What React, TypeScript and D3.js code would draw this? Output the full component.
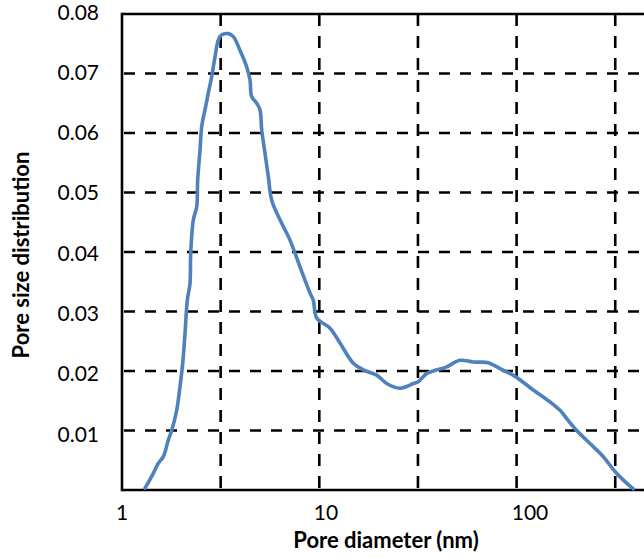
import React from "react";
import * as d3 from "d3";

// Pore diameter (nm) and pore size distribution values
const diameters = [
  1.308, 1.441, 1.528, 1.62, 1.717, 1.786, 1.894, 1.968, 2.031, 2.086, 2.143, 2.211, 2.23,
  2.298, 2.391, 2.419, 2.485, 2.535, 2.634, 2.737, 2.849, 2.961, 3.077, 3.202, 3.458, 3.666,
  3.963, 4.285, 4.454, 4.543, 4.816, 5.005, 5.106, 5.306, 5.515, 5.738, 6.322, 7.104, 7.984,
  8.975, 9.32, 9.7, 11.33, 12.73, 14.87, 16.71, 19.54, 21.96, 25.64, 27.73, 29.95, 31.76,
  35.03, 37.83, 44.23, 51.67, 60.33, 71.9, 82.4, 98.14, 121.5, 147.7, 166, 179.5, 201.7,
  235.5, 275, 315.3, 354.3, 390.5,
];
const psd = [
  0.0003, 0.0028, 0.0045, 0.0056, 0.0084, 0.01, 0.0134, 0.0174, 0.0213, 0.0263, 0.0319, 0.0347,
  0.0398, 0.0454, 0.0476, 0.0521, 0.0571, 0.0611, 0.0639, 0.0667, 0.0695, 0.0728, 0.0756, 0.0765,
  0.0767, 0.0762, 0.0739, 0.0711, 0.0689, 0.0661, 0.065, 0.0639, 0.0605, 0.0566, 0.0527, 0.0487,
  0.0454, 0.042, 0.0375, 0.0331, 0.0319, 0.0289, 0.0272, 0.0247, 0.0213, 0.0202, 0.0193, 0.0179,
  0.0171, 0.0174, 0.0179, 0.0182, 0.0196, 0.02, 0.0207, 0.0218, 0.0215, 0.0214, 0.0204, 0.0191,
  0.0168, 0.0148, 0.0134, 0.012, 0.01, 0.0078, 0.0056, 0.0031, 0.0014, 0.0002,
];

const xTickLabels = [1, 10, 100];
const xGridValues = [3.162, 10, 31.62, 100, 316.2];
const yTickValues = [0.01, 0.02, 0.03, 0.04, 0.05, 0.06, 0.07, 0.08];
const xTitle = "Pore diameter (nm)";
const yTitle = "Pore size distribution";

const W = 644;
const H = 558;
const FONT = "Lato, 'Open Sans', sans-serif";

export default function App() {
  const left = 122;
  const top = 14;
  const bottom = 490;
  const x = d3.scaleLog().domain([1, 1000]).range([left, left + 3 * 197.3]);
  const y = d3.scaleLinear().domain([0, 0.08]).range([bottom, top]);
  const xLab = d3.scaleLog().domain([1, 100]).range([122, 530]);
  const yLab = d3.scaleLinear().domain([0, 0.08]).range([494.5, 12]);

  const pts: [number, number][] = diameters.map((d, i) => [d, psd[i]]);
  const line = d3
    .line<[number, number]>()
    .x((d) => x(d[0]))
    .y((d) => y(d[1]))
    .curve(d3.curveCatmullRom.alpha(0.5));

  return (
    <svg
      width={W}
      height={H}
      style={{ position: "absolute", left: 0, top: 0, background: "#fff" }}
    >
      <rect x={0} y={0} width={W} height={H} fill="#fff" />
      {/* horizontal gridlines */}
      {yTickValues.slice(0, 7).map((v) => (
        <line
          key={"h" + v}
          x1={left}
          x2={W}
          y1={y(v)}
          y2={y(v)}
          stroke="#000"
          strokeWidth={2.6}
          strokeDasharray="11,10"
          strokeDashoffset={-2}
        />
      ))}
      {/* vertical gridlines */}
      {xGridValues.map((v) => (
        <line
          key={"v" + v}
          x1={x(v)}
          x2={x(v)}
          y1={top}
          y2={bottom}
          stroke="#000"
          strokeWidth={2.6}
          strokeDasharray="12,10"
        />
      ))}
      {/* frame */}
      <line x1={left} x2={W} y1={top} y2={top} stroke="#000" strokeWidth={2.6} />
      <line x1={left} x2={W} y1={bottom} y2={bottom} stroke="#000" strokeWidth={2.6} />
      <line x1={left} x2={left} y1={top - 1.3} y2={bottom + 1.3} stroke="#000" strokeWidth={2.6} />

      {/* data line */}
      <path d={line(pts) || ""} fill="none" stroke="#4f81bd" strokeWidth={3.6} strokeLinejoin="round" strokeLinecap="round" />

      {/* y tick labels */}
      {yTickValues.map((v) => (
        <text
          key={"yl" + v}
          x={99}
          y={yLab(v)}
          dy="0.36em"
          textAnchor="end"
          fontFamily={FONT}
          fontSize={21}
          fill="#000"
        >
          {d3.format(".2f")(v)}
        </text>
      ))}
      {/* x tick labels */}
      {xTickLabels.map((v) => (
        <text
          key={"xl" + v}
          x={xLab(v)}
          y={520}
          textAnchor="middle"
          fontFamily={FONT}
          fontSize={21}
          fill="#000"
        >
          {v}
        </text>
      ))}
      {/* axis titles */}
      <text
        x={386}
        y={548}
        textAnchor="middle"
        fontFamily={FONT}
        fontWeight="bold"
        fontSize={22}
        fill="#000"
      >
        {xTitle}
      </text>
      <text
        transform="translate(29,255) rotate(-90)"
        textAnchor="middle"
        fontFamily={FONT}
        fontWeight="bold"
        fontSize={22}
        fill="#000"
      >
        {yTitle}
      </text>
    </svg>
  );
}
